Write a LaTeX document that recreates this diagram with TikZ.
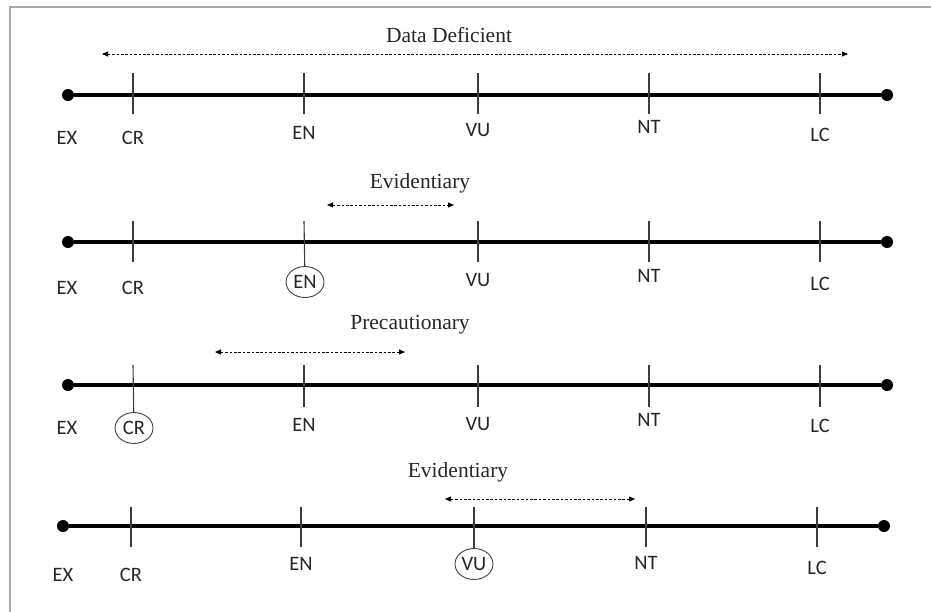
\documentclass[tikz,border=0pt]{standalone}
\usepackage{fontspec}
\setmainfont{Liberation Serif}
\newfontfamily\labfont{Carlito}
\usetikzlibrary{arrows.meta,shapes.geometric}
\definecolor{framegray}{RGB}{170,170,170}
\definecolor{tickgray}{RGB}{60,60,60}
\tikzset{
  dotnode/.style={circle,fill=black,minimum size=12pt,inner sep=0pt},
  axisline/.style={line width=3.4pt,black},
  tickline/.style={line width=1.1pt,tickgray},
  spanline/.style={line width=0.9pt,black,dash pattern=on 2.6pt off 1.8pt,{Triangle[length=6pt,width=5pt]}-{Triangle[length=6pt,width=5pt]}},
  lab/.style={font=\labfont\fontsize{20.5}{20.5}\selectfont,inner sep=0pt,text=black!85},
  circlab/.style={lab,draw=black!75,line width=0.9pt,ellipse,minimum width=38pt,minimum height=31pt,inner sep=0pt},
  title/.style={font=\fontsize{21.5}{21.5}\selectfont,inner sep=0pt,text=black!85}
}
\begin{document}
\begin{tikzpicture}[x=1pt,y=-1pt]
\useasboundingbox (0,0) rectangle (931,611);
% frame
\coordinate (fbl) at (10,612);
\coordinate (ftl) at (10,7);
\coordinate (ftr) at (932,7);
\draw[framegray,line width=2pt] (fbl) -- (ftl) -- (ftr);

% ---------- Row 1 ----------
\node[title] (r1title) at (449,35) {Data Deficient};
\coordinate (r1sa) at (102,54);
\coordinate (r1sb) at (848,54);
\draw[spanline] (r1sa) -- (r1sb);
\node[dotnode] (r1L) at (68,95) {};
\node[dotnode] (r1R) at (887,95) {};
\draw[axisline] (r1L) -- (r1R);
\foreach \n/\x/\ly in {CR/133/138, EN/304/133, VU/478/130, NT/649/127, LC/820/135}{
  \coordinate (r1t\n) at (\x,73);
  \coordinate (r1b\n) at (\x,114);
  \draw[tickline] (r1t\n) -- (r1b\n);
  \node[lab] (r1\n) at (\x,\ly) {\n};
}
\node[lab] (r1EX) at (67,138) {EX};

% ---------- Row 2 ----------
\node[title] (r2title) at (420,183) {Evidentiary};
\coordinate (r2sa) at (327,205);
\coordinate (r2sb) at (454,205);
\draw[spanline] (r2sa) -- (r2sb);
\node[dotnode] (r2L) at (68,242) {};
\node[dotnode] (r2R) at (887,242) {};
\draw[axisline] (r2L) -- (r2R);
\foreach \n/\x/\ly in {CR/133/288, VU/478/280, NT/649/276, LC/820/284}{
  \coordinate (r2t\n) at (\x,221);
  \coordinate (r2b\n) at (\x,262);
  \draw[tickline] (r2t\n) -- (r2b\n);
  \node[lab] (r2\n) at (\x,\ly) {\n};
}
\node[circlab] (r2EN) at (305,282) {EN};
\coordinate (r2tEN) at (304,221);
\draw[tickline] (r2tEN) -- (r2EN);
\node[lab] (r2EX) at (67,288) {EX};

% ---------- Row 3 ----------
\node[title] (r3title) at (410,325) {Precautionary};
\coordinate (r3sa) at (215,352);
\coordinate (r3sb) at (405,352);
\draw[spanline] (r3sa) -- (r3sb);
\node[dotnode] (r3L) at (68,385) {};
\node[dotnode] (r3R) at (887,385) {};
\draw[axisline] (r3L) -- (r3R);
\foreach \n/\x/\ly in {EN/304/425, VU/478/424, NT/649/420, LC/820/426}{
  \coordinate (r3t\n) at (\x,365);
  \coordinate (r3b\n) at (\x,407);
  \draw[tickline] (r3t\n) -- (r3b\n);
  \node[lab] (r3\n) at (\x,\ly) {\n};
}
\node[circlab] (r3CR) at (134,428) {CR};
\coordinate (r3tCR) at (133,365);
\draw[tickline] (r3tCR) -- (r3CR);
\node[lab] (r3EX) at (67,428) {EX};

% ---------- Row 4 ----------
\node[title] (r4title) at (458,472) {Evidentiary};
\coordinate (r4sa) at (445,499);
\coordinate (r4sb) at (635,499);
\draw[spanline] (r4sa) -- (r4sb);
\node[dotnode] (r4L) at (63,526) {};
\node[dotnode] (r4R) at (884,526) {};
\draw[axisline] (r4L) -- (r4R);
\foreach \n/\x/\ly in {CR/131/575, EN/301/564, NT/646/563, LC/817/568}{
  \coordinate (r4t\n) at (\x,507);
  \coordinate (r4b\n) at (\x,547);
  \draw[tickline] (r4t\n) -- (r4b\n);
  \node[lab] (r4\n) at (\x,\ly) {\n};
}
\node[circlab] (r4VU) at (474,564) {VU};
\coordinate (r4tVU) at (474,507);
\draw[tickline] (r4tVU) -- (r4VU);
\node[lab] (r4EX) at (63,575) {EX};
\end{tikzpicture}
\end{document}
